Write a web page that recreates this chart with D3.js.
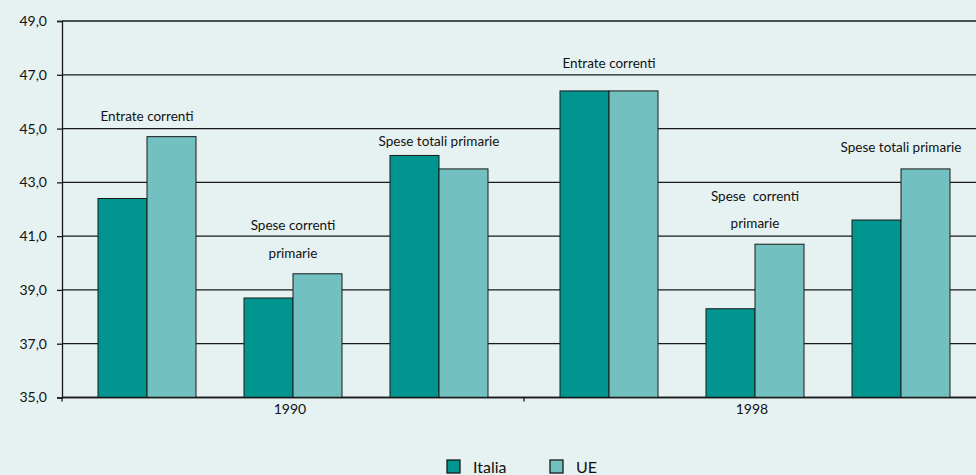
<!DOCTYPE html>
<html><head><meta charset="utf-8">
<script src="https://cdn.jsdelivr.net/npm/d3@7"></script>
<style>
html,body{margin:0;padding:0;background:#e6f1f1;}
svg{display:block;font-family:Lato, "Open Sans", sans-serif;}
</style></head>
<body><svg id="c" width="976" height="475"></svg>
<script>
const years = ["1990", "1998"];
const categories = ["Entrate correnti", "Spese correnti primarie", "Spese totali primarie"];
const series = ["Italia", "UE"];
const italia = [42.4, 38.7, 44.0, 46.4, 38.3, 41.6];
const ue = [44.7, 39.6, 43.5, 46.4, 40.7, 43.5];
const yTicks = [35, 37, 39, 41, 43, 45, 47, 49];
// annotation labels: lines of text and their anchor value (in data units)
const labelLines = [
  ["Entrate correnti"],
  ["Spese correnti", "primarie"],
  ["Spese totali primarie"],
  ["Entrate correnti"],
  ["Spese  correnti", "primarie"],
  ["Spese totali primarie"]
];
const labelAt = [[45.46], [41.40, 40.36], [44.53], [47.44], [42.48, 41.48], [44.31]];

const colors = {Italia: "#00958f", UE: "#73c0c0"};
const svg = d3.select("#c");
const mLeft = 62, mTop = 21, mBottom = 397.5, mRight = 986;

const y = d3.scaleLinear().domain([35, 49]).range([mBottom, mTop]);
const x0 = d3.scaleBand().domain(years).range([mLeft, mRight]);
const x1 = d3.scaleBand().domain(categories).range([0, x0.bandwidth()])
  .paddingInner(48/146).paddingOuter(0.2466);
const x2 = d3.scaleBand().domain(series).range([0, x1.bandwidth()]);

// gridlines
svg.append("g").selectAll("line").data(yTicks).join("line")
  .attr("x1", mLeft).attr("x2", 976)
  .attr("y1", d => y(d)).attr("y2", d => y(d))
  .attr("stroke", "#1a1a1a").attr("stroke-width", 1.3);

// bars
const rows = [];
years.forEach((yr, yi) => categories.forEach((c, ci) => {
  const i = yi * categories.length + ci;
  rows.push({yr, c, i, vals: [{s: "Italia", v: italia[i]}, {s: "UE", v: ue[i]}]});
}));
const g = svg.append("g");
rows.forEach(r => {
  const gx = x0(r.yr) + x1(r.c);
  g.append("g").selectAll("rect").data(r.vals).join("rect")
    .attr("x", d => gx + x2(d.s))
    .attr("y", d => y(d.v))
    .attr("width", x2.bandwidth())
    .attr("height", d => y(35) - y(d.v))
    .attr("fill", d => colors[d.s])
    .attr("stroke", "#1a1a1a").attr("stroke-width", 1);
  labelLines[r.i].forEach((ln, li) => {
    svg.append("text")
      .attr("x", gx + x1.bandwidth() / 2)
      .attr("y", y(labelAt[r.i][li]))
      .attr("dy", "0.35em")
      .attr("text-anchor", "middle")
      .attr("font-size", 13.5).attr("fill", "#111")
      .style("white-space", "pre")
      .text(ln);
  });
});

// y axis
const yAxis = d3.axisLeft(y).tickValues(yTicks).tickSize(5).tickPadding(10)
  .tickFormat(d => d3.format(".1f")(d).replace(".", ","));
const ya = svg.append("g").attr("transform", `translate(${mLeft},0)`).call(yAxis);
ya.select(".domain").attr("stroke", "#1a1a1a").attr("stroke-width", 1.3);
ya.selectAll(".tick line").attr("stroke", "#1a1a1a").attr("stroke-width", 1.3);
ya.selectAll("text").attr("font-size", 14).attr("fill", "#111").style("font-family", "Lato, sans-serif");

// x axis
svg.append("line").attr("x1", mLeft).attr("x2", 976).attr("y1", mBottom).attr("y2", mBottom)
  .attr("stroke", "#1a1a1a").attr("stroke-width", 1.3);
svg.append("g").selectAll("line").data([mLeft, x0("1998")]).join("line")
  .attr("x1", d => d).attr("x2", d => d).attr("y1", mBottom).attr("y2", mBottom + 4)
  .attr("stroke", "#1a1a1a").attr("stroke-width", 1.3);
svg.append("g").selectAll("text").data(years).join("text")
  .attr("x", d => x0(d) + x0.bandwidth() / 2 - 3)
  .attr("y", 414).attr("text-anchor", "middle")
  .attr("font-size", 14).attr("fill", "#111").text(d => d);

// legend
const legendX = [447, 550];
const lg = svg.append("g").selectAll("g").data(series).join("g")
  .attr("transform", (d, i) => `translate(${legendX[i]},460)`);
lg.append("rect").attr("width", 13).attr("height", 13)
  .attr("fill", d => colors[d]).attr("stroke", "#1a1a1a").attr("stroke-width", 1.3);
lg.append("text").attr("x", 26).attr("y", 13).attr("font-size", 16).attr("fill", "#111").text(d => d);
</script></body></html>
